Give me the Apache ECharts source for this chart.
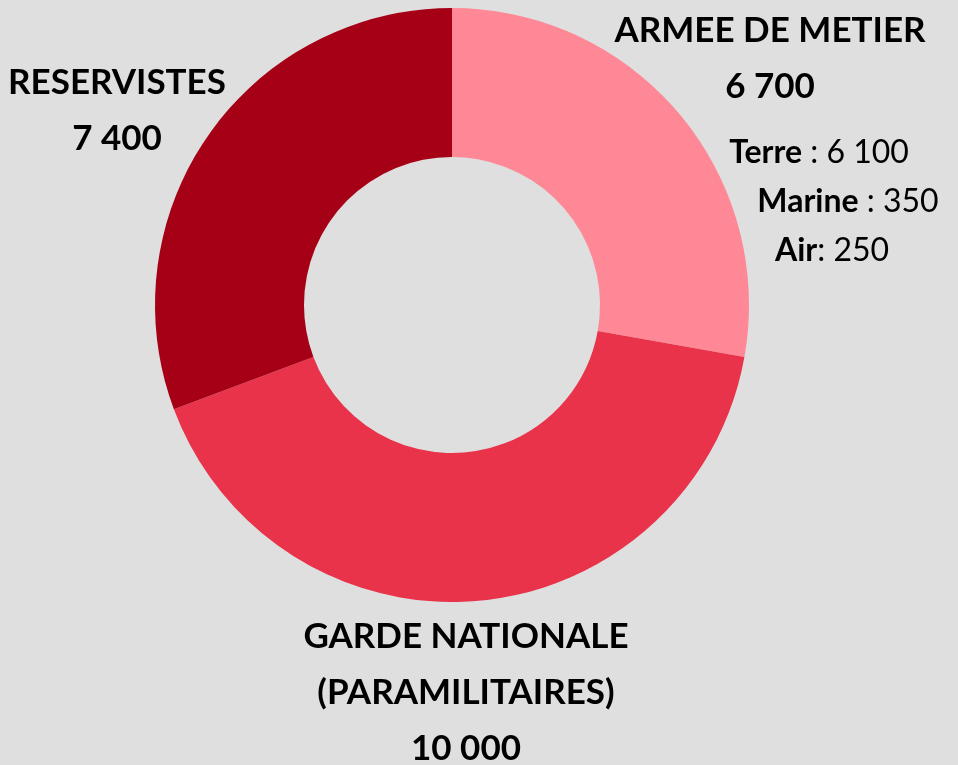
<!DOCTYPE html>
<html>
<head>
<meta charset="utf-8">
<script src="https://cdn.jsdelivr.net/npm/echarts@6/dist/echarts.min.js"></script>
<style>
  html, body { margin: 0; padding: 0; background: #dfdfdf; }
  #chart { width: 958px; height: 765px; }
</style>
</head>
<body>
<div id="chart"></div>
<script>
// effectifs par composante
const categories = ['ARMEE DE METIER', 'GARDE NATIONALE\n(PARAMILITAIRES)', 'RESERVISTES'];
const values = [6700, 10000, 7400];
const colors = ['#ff8896', '#e8334a', '#a50016'];

// détail de l'armée de métier
const subNames = ['Terre', 'Marine', 'Air'];
const subValues = [6100, 350, 250];
const subSeps = [' : ', ' : ', ': '];

// position des étiquettes (centre haut de chaque bloc)
const labelPos = [[770, 3], [466, 609], [117, 55]];
const subPos = [[819, 136], [848, 185], [832, 234]];

const FONT = 'Lato';

function fmt(n) {
  return String(n).replace(/\B(?=(\d{3})+(?!\d))/g, ' ');
}

const chart = echarts.init(document.getElementById('chart'));

chart.setOption({
  backgroundColor: '#dfdfdf',
  animation: false,
  series: [
    {
      type: 'pie',
      center: [452, 305],
      radius: [148, 297],
      startAngle: 90,
      clockwise: true,
      avoidLabelOverlap: false,
      itemStyle: { borderWidth: 0 },
      data: categories.map((name, i) => ({
        name,
        value: values[i],
        itemStyle: { color: colors[i] }
      })),
      label: {
        show: true,
        position: 'outside',
        formatter: (p) => `${p.name}\n${fmt(p.value)}`,
        fontFamily: FONT,
        fontWeight: 'bold',
        fontSize: 35,
        lineHeight: 56,
        color: '#000',
        align: 'center'
      },
      labelLine: { show: false },
      labelLayout: (params) => ({
        x: labelPos[params.dataIndex][0],
        y: labelPos[params.dataIndex][1],
        align: 'center',
        verticalAlign: 'top'
      })
    }
  ],
  graphic: subNames.map((name, i) => ({
    type: 'text',
    x: subPos[i][0],
    y: subPos[i][1],
    style: {
      text: `{b|${name}}{n|${subSeps[i]}${fmt(subValues[i])}}`,
      align: 'center',
      verticalAlign: 'top',
      rich: {
        b: { fontFamily: FONT, fontWeight: 'bold', fontSize: 32, fill: '#000', lineHeight: 34 },
        n: { fontFamily: FONT, fontWeight: 'normal', fontSize: 32, fill: '#000', lineHeight: 34 }
      }
    }
  }))
});
</script>
</body>
</html>
